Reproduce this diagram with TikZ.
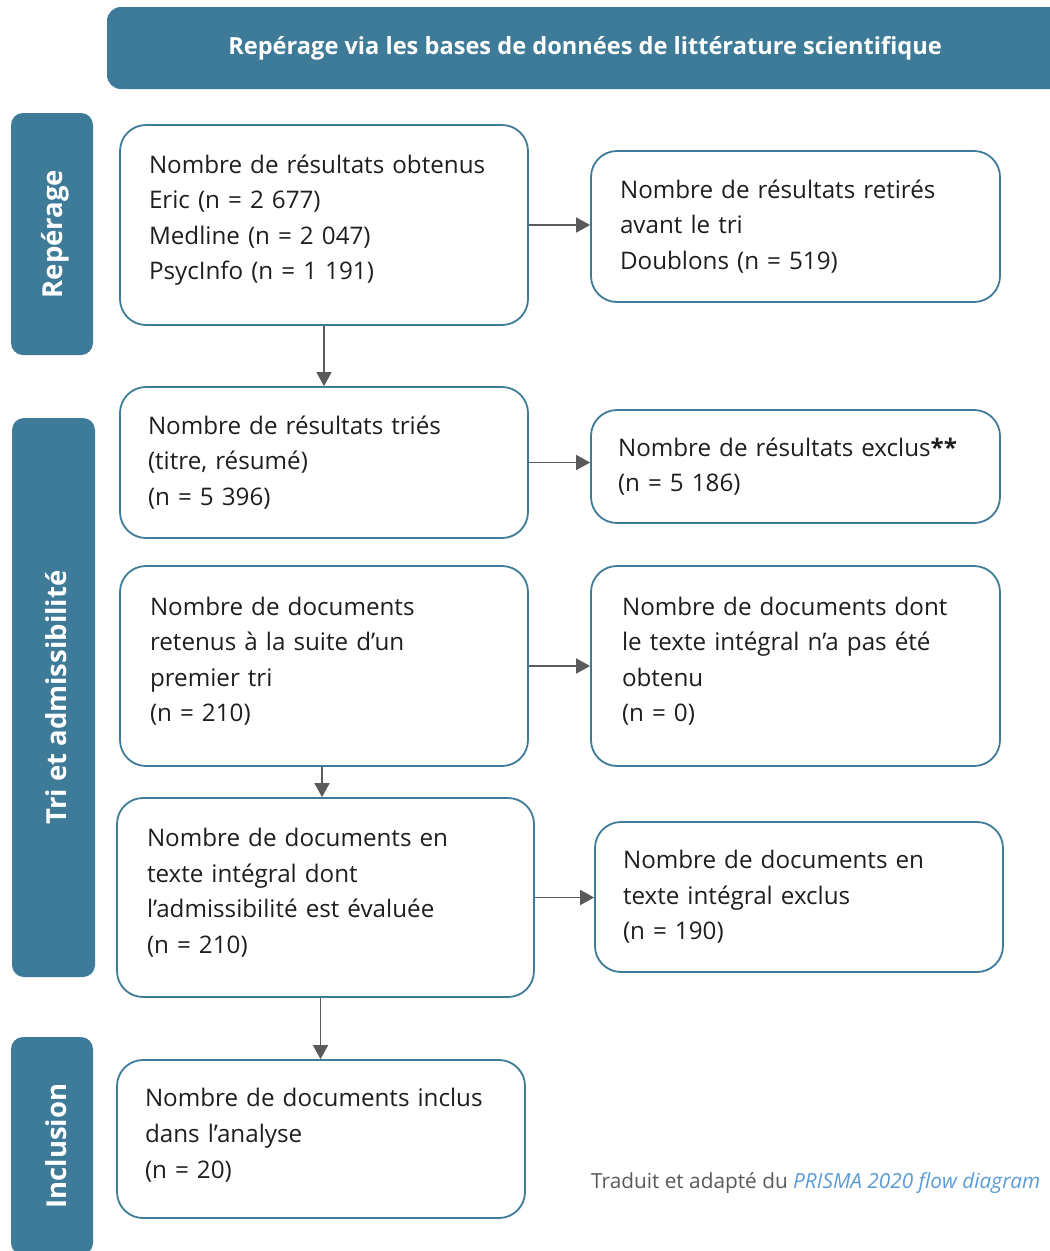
\documentclass[tikz,border=0pt]{standalone}
\usepackage{fontspec}
\setmainfont{Open Sans}
\usetikzlibrary{arrows.meta,positioning}
\definecolor{teal1}{HTML}{3E7B98}
\definecolor{arrowgray}{HTML}{5A5A5A}
\definecolor{boxtext}{HTML}{1E1E1E}
\definecolor{footgray}{HTML}{595959}
\definecolor{footblue}{HTML}{5B9BD5}
\tikzset{
  flowbox/.style={draw=teal1, line width=1.8pt, rounded corners=26pt, align=left,
    text=boxtext, font=\fontsize{24.2}{35.6}\selectfont, anchor=center, inner ysep=0pt},
  phase/.style={fill=teal1, rounded corners=12pt, rotate=90, inner sep=0pt},
  phasetext/.style={text=white, rotate=90, inner sep=0pt,
    font=\bfseries\fontsize{27.5}{30}\selectfont},
  flowarrow/.style={draw=arrowgray, line width=1.8pt, -{Triangle[length=14pt,width=15pt]}},
}
\begin{document}
\begin{tikzpicture}[x=1pt,y=-1pt]
\useasboundingbox (0,0) rectangle (1050,1251);
\clip (0,0) rectangle (1050,1251);
% header
\node[fill=teal1, rounded corners=14pt, minimum width=960pt, minimum height=82pt, inner sep=0pt,
  text=white, font=\bfseries\fontsize{23.6}{27}\selectfont] (hdr) at (587,48)
  {\hspace*{-4pt}Repérage via les bases de données de littérature scientifique\hspace*{0pt}};
% phase labels
\node[phase, minimum width=242pt, minimum height=82pt] (p1) at (52,234) {};
\node[phasetext] (t1) at ([xshift=3pt]p1.center) {Repérage};
\node[phase, minimum width=559pt, minimum height=83pt] (p2) at (53.5,697.5) {};
\node[phasetext] (t2) at ([xshift=3pt]p2.center) {Tri et admissibilité};
\node[phase, minimum width=218pt, minimum height=82pt] (p3) at (52,1146) {};
\node[phasetext] (t3) at ([xshift=4pt]p3.center) {Inclusion};
% boxes
\node[flowbox, text width=350pt, inner xsep=29pt, minimum height=200pt] (b1) at (324,225)
  {Nombre de résultats obtenus\\Eric (n = 2 677)\\Medline (n = 2 047)\\PsycInfo (n = 1 191)\\[-20pt]\mbox{}};
\node[flowbox, text width=351pt, inner xsep=29pt, minimum height=151pt] (b2) at (795.5,226.5)
  {Nombre de résultats retirés\\avant le tri\\Doublons (n = 519)};
\node[flowbox, text width=352pt, inner xsep=28pt, minimum height=151pt] (b3) at (324,462.5)
  {Nombre de résultats triés\\(titre, résumé)\\(n = 5 396)};
\node[flowbox, text width=355pt, inner xsep=27pt, minimum height=113pt] (b4) at (795.5,466.5)
  {Nombre de résultats exclus\textbf{**}\\(n = 5 186)};
\node[flowbox, text width=348pt, inner xsep=30pt, minimum height=200pt] (b5) at (324,666)
  {Nombre de documents\\retenus à la suite d’un\\premier tri\\(n = 210)\\[-22pt]\mbox{}};
\node[flowbox, text width=347pt, inner xsep=31pt, minimum height=200pt] (b6) at (795.5,666)
  {Nombre de documents dont\\le texte intégral n’a pas été\\obtenu\\(n = 0)\\[-22pt]\mbox{}};
\node[flowbox, text width=357pt, inner xsep=30pt, minimum height=199pt] (b7) at (325.5,897.5)
  {Nombre de documents en\\texte intégral dont\\l’admissibilité est évaluée\\(n = 210)\\[-22pt]\mbox{}};
\node[flowbox, text width=352pt, inner xsep=28pt, minimum height=150pt] (b8) at (799,897)
  {Nombre de documents en\\texte intégral exclus\\(n = 190)};
\node[flowbox, text width=352pt, inner xsep=28pt, minimum height=158pt] (b9) at (321,1139)
  {Nombre de documents inclus\\dans l’analyse\\(n = 20)\\[-24pt]\mbox{}};
% footer
\node[anchor=west, inner sep=0pt, font=\fontsize{20.8}{24}\selectfont, text=footgray] (foot) at (591,1183)
  {Traduit et adapté du \textcolor{footblue}{\itshape PRISMA 2020 flow diagram}};
% arrows
\draw[flowarrow] (b1.east) -- (b1.east -| b2.west);
\draw[flowarrow] (b1.south) -- (b1.south |- b3.north);
\draw[flowarrow] (b3.east) -- (b3.east -| b4.west);
\draw[flowarrow] (b5.east) -- (b5.east -| b6.west);
\draw[flowarrow] ([xshift=-2pt]b5.south) -- ([xshift=-2pt]b5.south |- b7.north);
\draw[flowarrow] (b7.east) -- (b7.east -| b8.west);
\draw[flowarrow] ([xshift=-5pt]b7.south) -- ([xshift=-5pt]b7.south |- b9.north);
\end{tikzpicture}
\end{document}
